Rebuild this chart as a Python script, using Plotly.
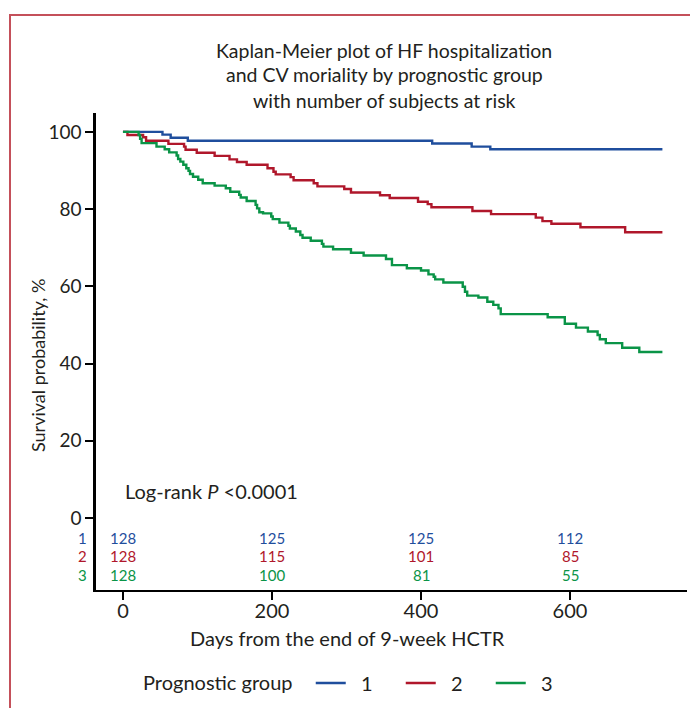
import plotly.graph_objects as go

# ---------------- data ----------------
groups = ["1", "2", "3"]

g1_days = [0, 53, 64, 87, 415, 468, 493, 724]
g1_surv = [100, 99.3, 98.5, 97.7, 97.0, 96.2, 95.5, 95.5]

g2_days = [0, 6, 27, 31, 61, 82, 84, 99, 123, 143, 153, 166, 194, 202, 205,
           225, 229, 256, 261, 297, 306, 345, 358, 396, 409, 414, 469, 494,
           554, 563, 575, 614, 674, 724]
g2_surv = [100, 99.2, 98.6, 97.7, 96.9, 96.2, 95.4, 94.6, 93.8, 92.9, 92.2,
           91.5, 90.6, 89.7, 89.0, 88.3, 87.5, 86.7, 85.9, 85.2, 84.3, 83.6,
           82.9, 81.9, 81.3, 80.5, 79.5, 78.7, 77.8, 76.9, 76.2, 75.3, 74.0, 74.0]

g3_days = [0, 21, 23, 25, 45, 56, 62, 72, 74, 77, 81, 85, 88, 90, 94, 101,
           107, 123, 138, 144, 156, 158, 166, 178, 180, 183, 188, 199, 201,
           210, 222, 224, 232, 238, 241, 252, 267, 269, 282, 306, 323, 353,
           361, 381, 400, 410, 417, 419, 430, 456, 459, 462, 477, 489, 497,
           504, 507, 570, 593, 608, 624, 637, 640, 648, 670, 693, 724]
g3_surv = [100, 99.2, 98.2, 97.1, 96.2, 95.5, 94.7, 93.9, 93.0, 92.3, 91.5,
           90.6, 89.9, 89.1, 88.4, 87.6, 86.7, 86.1, 85.4, 84.5, 83.7, 83.0,
           82.1, 81.1, 80.2, 79.2, 78.9, 78.1, 77.4, 76.5, 75.7, 75.0, 74.2,
           73.3, 72.6, 71.8, 71.0, 70.3, 69.6, 68.7, 68.0, 67.1, 65.5, 64.7,
           64.1, 63.1, 62.5, 61.8, 61.0, 59.9, 58.6, 57.6, 57.1, 56.0, 55.2,
           54.3, 52.8, 52.0, 50.3, 49.3, 48.3, 47.4, 46.3, 45.3, 44.1, 43.0, 43.0]

risk_days = [0, 200, 400, 600]
risk_g1 = [128, 125, 125, 112]
risk_g2 = [128, 115, 101, 85]
risk_g3 = [128, 100, 81, 55]

x_ticks = [0, 200, 400, 600]
y_ticks = [0, 20, 40, 60, 80, 100]

# ---------------- styling / layout helpers ----------------
OFF = 8                      # default page (body) margin of the html page
W, H = 690, 700
PW, PH = 591, 477
ML, MT = 96 - OFF, 113 - OFF
MR, MB = W - ML - PW, H - MT - PH
FONT = "Lato"
INK = "#231f20"
colors = ["#1f4e9d", "#b0172b", "#0a9447"]


def px_x(p):
    """page pixel x -> paper fraction"""
    return (p - OFF - ML) / PW


def px_y(p):
    """page pixel y -> paper fraction"""
    return (MT + PH - (p - OFF)) / PH


fig = go.Figure()
series = [(g1_days, g1_surv), (g2_days, g2_surv), (g3_days, g3_surv)]
for name, (d, s), c in zip(groups, series, colors):
    fig.add_trace(go.Scatter(x=d, y=s, mode="lines", name="&nbsp;&nbsp;" + name,
                             line=dict(color=c, width=2.4, shape="hv")))

ann = []
# title
for txt, yp in [("Kaplan-Meier plot of HF hospitalization", 50),
                ("and CV moriality by prognostic group", 75),
                ("with number of subjects at risk", 100)]:
    ann.append(dict(text=txt, xref="paper", yref="paper", x=px_x(384), y=px_y(yp),
                    xanchor="center", yanchor="middle", showarrow=False,
                    font=dict(family=FONT, size=19.5, color=INK)))
# axis titles
ann.append(dict(text="Survival probability, %", xref="paper", yref="paper",
                x=px_x(38), y=px_y(366), textangle=-90, showarrow=False,
                xanchor="center", yanchor="middle",
                font=dict(family=FONT, size=18, color=INK)))
ann.append(dict(text="Days from the end of 9-week HCTR", xref="paper", yref="paper",
                x=px_x(347), y=px_y(638), showarrow=False,
                xanchor="center", yanchor="middle",
                font=dict(family=FONT, size=20, color=INK)))
# log-rank
ann.append(dict(text="Log-rank <i>P</i> &lt;0.0001", xref="x", yref="paper",
                x=0, y=px_y(491), xanchor="left", yanchor="middle", showarrow=False,
                font=dict(family=FONT, size=20, color=INK)))
# number at risk table
row_px = [538, 556, 575]
for g, risk, c, rp in zip(groups, [risk_g1, risk_g2, risk_g3], colors, row_px):
    ann.append(dict(text=g, xref="paper", yref="paper", x=px_x(82), y=px_y(rp),
                    xanchor="center", yanchor="middle", showarrow=False,
                    font=dict(family=FONT, size=15, color=c)))
    for d, n in zip(risk_days, risk):
        ann.append(dict(text=str(n), xref="x", yref="paper", x=d, y=px_y(rp),
                        xanchor="center", yanchor="middle", showarrow=False,
                        font=dict(family=FONT, size=15, color=c)))

fig.update_layout(
    width=W, height=H,
    margin=dict(l=ML, r=MR, t=MT, b=MB, autoexpand=False),
    paper_bgcolor="white", plot_bgcolor="white",
    annotations=ann,
    shapes=[dict(type="rect", xref="paper", yref="paper",
                 x0=px_x(10), x1=px_x(760), y0=px_y(760), y1=px_y(15),
                 line=dict(color="#c4505a", width=2), fillcolor="rgba(0,0,0,0)",
                 layer="below")],
    showlegend=True,
    legend=dict(orientation="h", x=px_x(141), y=px_y(683), xanchor="left",
                yanchor="middle", bgcolor="rgba(0,0,0,0)",
                font=dict(family=FONT, size=20, color=INK),
                title=dict(text="Prognostic group&nbsp;&nbsp;", side="left",
                           font=dict(family=FONT, size=20, color=INK)),
                entrywidth=45, itemwidth=30),
    xaxis=dict(range=[-36.2, 757], tickvals=x_ticks, ticks="outside", ticklen=8,
               tickwidth=1.5, tickcolor="black", showline=True, linecolor="black",
               linewidth=2, showgrid=False, zeroline=False, ticklabelstandoff=-6,
               tickfont=dict(family=FONT, size=20, color=INK)),
    yaxis=dict(range=[-18.65, 104.9], tickvals=y_ticks, ticks="outside", ticklen=8,
               tickwidth=1.5, tickcolor="black", showline=True, linecolor="black",
               linewidth=2.5, showgrid=False, zeroline=False,
               tickfont=dict(family=FONT, size=19, color=INK)),
)

fig.write_html("out.html")
